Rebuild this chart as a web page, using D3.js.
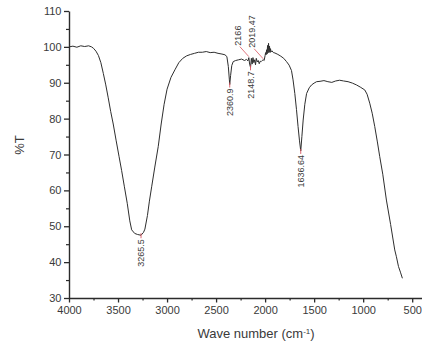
<!DOCTYPE html>
<html>
<head>
<meta charset="utf-8">
<script src="https://cdn.jsdelivr.net/npm/d3@7"></script>
<style>
  body { margin: 0; background: #fff; }
  svg { display: block; font-family: "Liberation Sans", Arial, sans-serif; }
</style>
</head>
<body>
<svg id="chart" width="422" height="347"></svg>
<script>
/* spectrum: wave number (cm-1) and %T */
const waveNumber = [
    4000, 3960, 3920, 3880, 3840, 3800, 3770, 3750, 3725, 3700,
    3675, 3650, 3625, 3600, 3575, 3549, 3520, 3490, 3463, 3435,
    3406, 3380, 3361, 3330, 3300, 3265.5, 3240, 3226, 3200, 3180,
    3157, 3125, 3090, 3060, 3030, 3000, 2960, 2920, 2880, 2840,
    2800, 2760, 2720, 2680, 2640, 2600, 2560, 2520, 2480, 2440,
    2410, 2390, 2375, 2365, 2360.9, 2352, 2340, 2325, 2300, 2270,
    2240, 2210, 2190, 2175, 2166, 2158, 2148.7, 2140, 2132, 2124,
    2115, 2106, 2098, 2090, 2080, 2070, 2060, 2050, 2040, 2030,
    2019.47, 2010, 2000, 1995, 1990, 1985, 1980, 1975, 1970, 1965,
    1960, 1955, 1950, 1945, 1940, 1930, 1915, 1900, 1870, 1840,
    1810, 1782, 1755, 1731, 1715, 1697, 1680, 1664, 1650, 1636.64,
    1625, 1612, 1595, 1577, 1550, 1526, 1500, 1475, 1440, 1400,
    1360, 1320, 1280, 1240, 1200, 1154, 1110, 1069, 1030, 984,
    960, 933, 908, 882, 855, 831, 800, 763, 720, 678,
    661, 640, 620, 600
];
const transmittance = [
    100.0, 100.2, 99.9, 100.3, 100.1, 100.3, 100.0, 99.6, 98.8, 97.6,
    95.6, 92.6, 89.4, 85.8, 82.0, 78.5, 74.0, 69.5, 65.5, 61.0,
    56.4, 51.5, 49.0, 48.0, 47.7, 47.5, 48.3, 49.2, 53.0, 57.0,
    61.0, 66.5, 72.2, 78.5, 84.0, 88.2, 91.5, 93.6, 95.6, 96.8,
    97.5, 97.9, 98.2, 98.5, 98.5, 98.7, 98.4, 98.5, 98.2, 98.0,
    97.8, 97.3, 94.5, 91.0, 89.5, 92.0, 94.8, 95.9, 96.2, 96.4,
    96.6, 96.2, 96.5, 96.1, 97.0, 95.2, 94.3, 96.8, 95.2, 97.0,
    95.6, 96.4, 95.0, 96.8, 95.8, 96.2, 95.3, 96.0, 95.9, 96.2,
    96.4, 96.2, 97.6, 98.4, 97.8, 99.2, 98.0, 100.4, 98.3, 101.0,
    98.6, 100.2, 98.4, 99.5, 98.6, 98.9, 98.4, 98.3, 97.9, 97.4,
    96.8, 95.9, 94.9, 93.4, 90.8, 87.0, 82.5, 77.8, 74.0, 71.0,
    75.0, 79.6, 84.0, 87.0, 88.6, 89.4, 89.9, 90.3, 90.4, 90.6,
    90.3, 90.1, 90.5, 90.7, 90.5, 90.3, 89.9, 89.4, 88.8, 88.0,
    86.8, 84.3, 81.5, 77.8, 73.5, 69.4, 64.5, 57.3, 50.5, 43.4,
    41.5, 38.8, 37.2, 35.5
];

/* peak annotations */
const peakWave = [3265.5, 2360.9, 2166, 2148.7, 2019.47, 1636.64];
const peakT = [47.5, 89.5, 97.0, 94.3, 96.4, 71.0];
const peakText = ["3265.5", "2360.9", "2166", "2148.7", "2019.47", "1636.64"];
const peakAbove = [false, false, true, false, true, false];

/* ticks */
const xTicks = [4000, 3500, 3000, 2500, 2000, 1500, 1000, 500];
const xMinor = [3750, 3250, 2750, 2250, 1750, 1250, 750];
const yTicks = [30, 40, 50, 60, 70, 80, 90, 100, 110];
const yMinor = [35, 45, 55, 65, 75, 85, 95, 105];

const svg = d3.select("#chart");
const axisColor = "#2b2b2b";
const textColor = "#3a3a3a";

var x = d3.scaleLinear().domain([4000, 400]).range([69, 422]);
var y = d3.scaleLinear().domain([30, 110]).range([298, 11]);

/* minor ticks first so the main axes sit on top */
svg.append("g")
    .attr("transform", "translate(0,298)")
    .call(d3.axisBottom(x).tickValues(xMinor).tickSize(2.5).tickFormat(""))
    .call(g => g.select(".domain").remove())
    .selectAll("line").attr("stroke", axisColor).attr("stroke-width", 1.2);

svg.append("g")
    .attr("transform", "translate(69,0)")
    .call(d3.axisLeft(y).tickValues(yMinor).tickSize(3).tickFormat(""))
    .call(g => g.select(".domain").remove())
    .selectAll("line").attr("stroke", axisColor).attr("stroke-width", 1.2);

/* x axis */
var xAxis = svg.append("g")
    .attr("transform", "translate(0,298)")
    .call(d3.axisBottom(x).tickValues(xTicks).tickFormat(d3.format("d"))
        .tickSize(4.5).tickSizeOuter(0).tickPadding(4));
xAxis.select(".domain").attr("stroke", axisColor).attr("stroke-width", 1.4);
xAxis.selectAll("line").attr("stroke", axisColor).attr("stroke-width", 1.3);
xAxis.selectAll("text")
    .attr("fill", textColor)
    .style("font-size", "11px")
    .style("font-family", "'Liberation Sans', Arial, sans-serif");

/* y axis */
var yAxis = svg.append("g")
    .attr("transform", "translate(69,0)")
    .call(d3.axisLeft(y).tickValues(yTicks).tickFormat(d3.format("d"))
        .tickSize(5).tickSizeOuter(0).tickPadding(2.5));
yAxis.select(".domain").attr("stroke", axisColor).attr("stroke-width", 1.4);
yAxis.selectAll("line").attr("stroke", axisColor).attr("stroke-width", 1.3);
yAxis.selectAll("text")
    .attr("fill", textColor)
    .style("font-size", "11px")
    .style("font-family", "'Liberation Sans', Arial, sans-serif");

/* axis titles */
var xTitle = svg.append("text")
    .attr("x", 256)
    .attr("y", 338)
    .attr("text-anchor", "middle")
    .attr("fill", textColor)
    .style("font-size", "13px");
xTitle.append("tspan").text("Wave number (cm");
xTitle.append("tspan")
    .attr("baseline-shift", "super")
    .style("font-size", "8px")
    .text("-1");
xTitle.append("tspan").text(")");

svg.append("text")
    .attr("transform", "translate(24,145) rotate(-90)")
    .attr("text-anchor", "middle")
    .attr("fill", textColor)
    .style("font-size", "13px")
    .text("%T");

/* spectrum */
const points = waveNumber.map((w, i) => [w, transmittance[i]]);
var line = d3.line()
    .x(d => x(d[0]))
    .y(d => y(d[1]));

svg.append("path")
    .datum(points)
    .attr("fill", "none")
    .attr("stroke", "#2e2e2e")
    .attr("stroke-width", 1)
    .attr("stroke-linejoin", "round")
    .attr("d", line);

/* peak labels with small red markers */
const peaks = peakWave.map((w, i) => ({ w: w, t: peakT[i], label: peakText[i], above: peakAbove[i] }));
peaks.forEach(function (p) {
    const px = x(p.w);
    const py = y(p.t);
    if (p.above) {
        const lx = px - 11;
        const ly = py - 12;
        svg.append("line")
            .attr("x1", px).attr("y1", py - 1)
            .attr("x2", lx + 2).attr("y2", ly + 1)
            .attr("stroke", "#d9535f")
            .attr("stroke-width", 0.8);
        svg.append("text")
            .attr("transform", "translate(" + lx + "," + ly + ") rotate(-90)")
            .attr("text-anchor", "start")
            .attr("dy", "0.35em")
            .attr("fill", textColor)
            .style("font-size", "9px")
            .text(p.label);
    } else {
        svg.append("line")
            .attr("x1", px).attr("y1", py - 2)
            .attr("x2", px).attr("y2", py + 3)
            .attr("stroke", "#d9535f")
            .attr("stroke-width", 0.9);
        svg.append("text")
            .attr("transform", "translate(" + px + "," + (py + 4) + ") rotate(-90)")
            .attr("text-anchor", "end")
            .attr("dy", "0.35em")
            .attr("fill", textColor)
            .style("font-size", "9px")
            .text(p.label);
    }
});
</script>
</body>
</html>
